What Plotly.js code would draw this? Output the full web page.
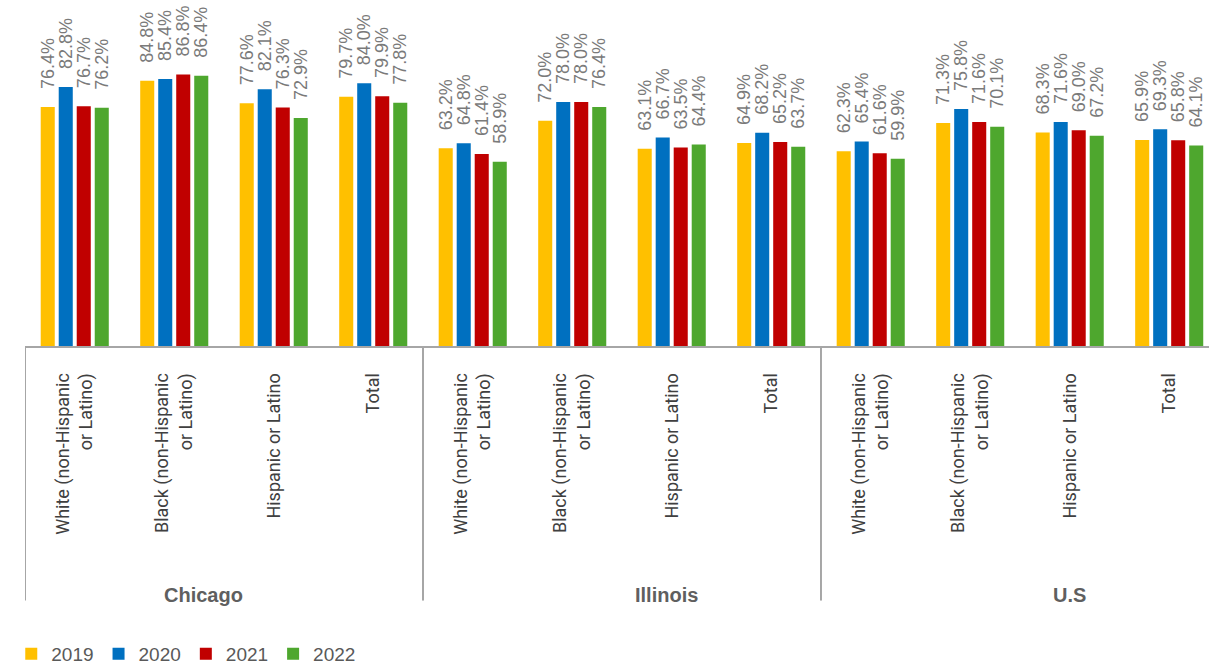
<!DOCTYPE html>
<html>
<head>
<meta charset="utf-8">
<script src="https://cdn.plot.ly/plotly-3.0.1.min.js"></script>
<style>
  html, body { margin: 0; padding: 0; background: #ffffff; }
  #chart { width: 1209px; height: 666px; }
</style>
</head>
<body>
<div id="chart"></div>
<script>
// Category labels along the axis (three regions, four groups each)
const categories = [
  'White (non-Hispanic<br>or Latino)', 'Black (non-Hispanic<br>or Latino)', 'Hispanic or Latino', 'Total',
  'White (non-Hispanic<br>or Latino)', 'Black (non-Hispanic<br>or Latino)', 'Hispanic or Latino', 'Total',
  'White (non-Hispanic<br>or Latino)', 'Black (non-Hispanic<br>or Latino)', 'Hispanic or Latino', 'Total'
];
const regions = ['Chicago', 'Illinois', 'U.S'];
const years = ['2019', '2020', '2021', '2022'];

// Percentages per year, in category order
const values2019 = [76.4, 84.8, 77.6, 79.7, 63.2, 72.0, 63.1, 64.9, 62.3, 71.3, 68.3, 65.9];
const values2020 = [82.8, 85.4, 82.1, 84.0, 64.8, 78.0, 66.7, 68.2, 65.4, 75.8, 71.6, 69.3];
const values2021 = [76.7, 86.8, 76.3, 79.9, 61.4, 78.0, 63.5, 65.2, 61.6, 71.6, 69.0, 65.8];
const values2022 = [76.2, 86.4, 72.9, 77.8, 58.9, 76.4, 64.4, 63.7, 59.9, 70.1, 67.2, 64.1];

const seriesValues = [values2019, values2020, values2021, values2022];
const seriesColors = ['#FFC000', '#0070C0', '#C00000', '#4EA72E'];

const positions = categories.map((_, i) => i);
const GRID = '#A6A6A6';
const SANS = "'Liberation Sans', Arial, sans-serif";
const LABEL_FONT = "Roboto, 'Liberation Sans', Arial, sans-serif";

const traces = years.map((yr, k) => ({
  type: 'bar',
  name: yr,
  x: positions,
  y: seriesValues[k],
  marker: { color: seriesColors[k] },
  text: seriesValues[k].map(v => '\u00a0\u00a0\u00a0' + v.toFixed(1) + '%'),
  textposition: 'outside',
  textangle: -90,
  constraintext: 'none',
  cliponaxis: false,
  textfont: { family: SANS, size: 18, color: '#7A7A7A' },
  hoverinfo: 'skip'
}));

// Region separators below the axis and region names
const groupSize = 4;
const shapes = [];
for (let g = 0; g < regions.length; g++) {
  shapes.push({
    type: 'line', xref: 'x', yref: 'paper',
    x0: g * groupSize - 0.5, x1: g * groupSize - 0.5, y0: 0, y1: -0.74,
    line: { color: GRID, width: 2 }
  });
}
const regionCenters = [1.29, 5.95, 10.0];
const annotations = regions.map((r, g) => ({
  text: '<b>' + r + '</b>',
  xref: 'x', yref: 'paper',
  x: regionCenters[g], y: -0.725,
  xanchor: 'center', yanchor: 'middle',
  showarrow: false,
  font: { family: SANS, size: 20, color: '#5F5F5F' }
}));

const layout = {
  width: 1209,
  height: 666,
  margin: { l: 25, r: 0, t: 2, b: 320, autoexpand: false },
  paper_bgcolor: '#ffffff',
  plot_bgcolor: '#ffffff',
  barmode: 'group',
  bargap: 0.276,
  bargroupgap: 0.22,
  showlegend: true,
  legend: {
    orientation: 'h',
    x: -0.0116, xanchor: 'left',
    y: -0.895, yanchor: 'middle',
    font: { family: SANS, size: 19, color: '#595959' },
    traceorder: 'normal',
    itemclick: false
  },
  xaxis: {
    range: [-0.5, 11.4],
    tickmode: 'array',
    tickvals: positions,
    ticktext: categories,
    tickangle: -90,
    ticks: '',
    ticklabelstandoff: 18,
    tickfont: { family: LABEL_FONT, size: 18, color: '#404040' },
    showline: true,
    linecolor: GRID,
    linewidth: 2,
    showgrid: false,
    zeroline: false,
    fixedrange: true
  },
  yaxis: {
    range: [0, 110],
    visible: false,
    showgrid: false,
    zeroline: false,
    fixedrange: true
  },
  shapes: shapes,
  annotations: annotations
};

Plotly.newPlot('chart', traces, layout, { displayModeBar: false, staticPlot: true });
</script>
</body>
</html>
